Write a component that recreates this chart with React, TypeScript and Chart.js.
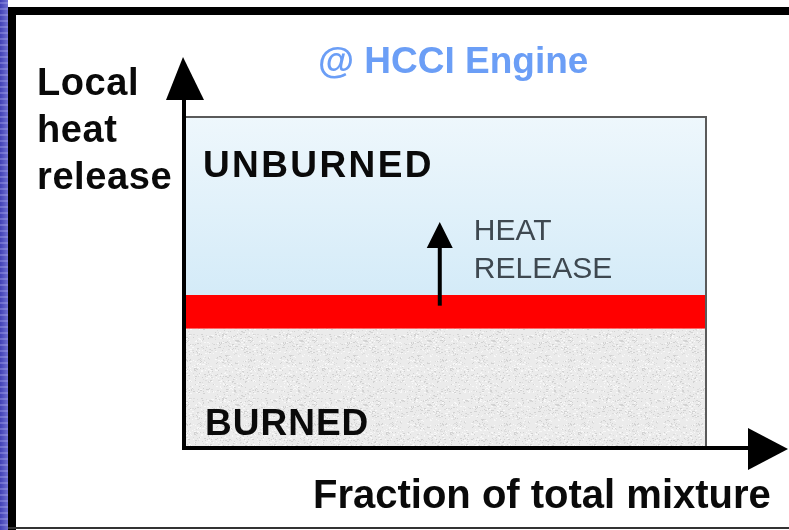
import React, { useEffect, useRef } from "react";
import { Chart, registerables } from "chart.js";

Chart.register(...registerables);

// ---- data (diagram values on normalised axes) ----
const fractionX = [0, 1]; // fraction of total mixture
const regionNames = ["BURNED", "REACTION ZONE", "UNBURNED"];
const regionLower = [0, 0.36, 0.462]; // local heat release (normalised)
const regionUpper = [0.36, 0.462, 1];
const heatArrowX = 0.49;
const heatArrowFrom = 0.43;
const heatArrowTo = 0.683;
const titleText = "@ HCCI Engine";
const yAxisTitle = ["Local", "heat", "release"];
const xAxisTitle = "Fraction of total mixture";
const heatLabel = ["HEAT", "RELEASE"];

const FONT = "'Liberation Sans', Arial, Helvetica, sans-serif";

function makeSpecklePattern(): CanvasPattern | string {
  const c = document.createElement("canvas");
  c.width = 64;
  c.height = 64;
  const g = c.getContext("2d");
  if (!g) return "#e9e9e9";
  g.fillStyle = "#ebebeb";
  g.fillRect(0, 0, 64, 64);
  let s = 12345;
  const next = () => {
    s = (s * 1103515245 + 12345) & 0x7fffffff;
    return s / 0x7fffffff;
  };
  for (let i = 0; i < 700; i++) {
    const x = Math.floor(next() * 64);
    const y = Math.floor(next() * 64);
    const v = next();
    g.fillStyle = v < 0.35 ? "#d2d2d2" : v < 0.6 ? "#dcdcdc" : "#f8f8f8";
    g.fillRect(x, y, 1 + (next() < 0.3 ? 1 : 0), 1);
  }
  return g.createPattern(c, "repeat") || "#e9e9e9";
}

function setSpacing(ctx: any, v: string) {
  if ("letterSpacing" in ctx) ctx.letterSpacing = v;
}

const diagramPlugin = {
  id: "diagram",
  beforeDraw(chart: any) {
    const ctx = chart.ctx;
    const W = chart.width;
    const H = chart.height;
    ctx.save();
    ctx.fillStyle = "#ffffff";
    ctx.fillRect(0, 0, W, H);
    // left blue strip
    const grd = ctx.createLinearGradient(0, 0, 8, 0);
    grd.addColorStop(0, "#4040b6");
    grd.addColorStop(1, "#7070d2");
    ctx.fillStyle = grd;
    ctx.fillRect(0, 0, 8, H);
    ctx.fillStyle = "rgba(180,180,240,0.35)";
    for (let y = 2; y < H; y += 6) ctx.fillRect(0, y, 8, 2);
    // black frame
    ctx.fillStyle = "#000000";
    ctx.fillRect(8, 7, W - 8, 8);
    ctx.fillRect(8, 7, 8, H - 7);
    ctx.fillStyle = "#333333";
    ctx.fillRect(8, H - 3, W - 8, 2);
    ctx.restore();
  },
  afterDatasetsDraw(chart: any) {
    const ctx = chart.ctx;
    const xs = chart.scales.x;
    const ys = chart.scales.y;
    const L = xs.getPixelForValue(fractionX[0]);
    const R = xs.getPixelForValue(fractionX[1]);
    const T = ys.getPixelForValue(regionUpper[2]);
    const B = ys.getPixelForValue(0);
    ctx.save();
    // box top and right edges
    ctx.strokeStyle = "#5a5a5a";
    ctx.lineWidth = 2;
    ctx.beginPath();
    ctx.moveTo(L, T);
    ctx.lineTo(R, T);
    ctx.lineTo(R, B);
    ctx.stroke();

    // axes
    ctx.strokeStyle = "#000000";
    ctx.fillStyle = "#000000";
    ctx.lineWidth = 4;
    ctx.lineCap = "square";
    ctx.beginPath();
    ctx.moveTo(L, B);
    ctx.lineTo(L, T - 20);
    ctx.moveTo(L, B);
    ctx.lineTo(R + 44, B);
    ctx.stroke();
    // y arrow head
    ctx.beginPath();
    ctx.moveTo(L - 1, T - 60);
    ctx.lineTo(L - 18, T - 17);
    ctx.lineTo(L + 20, T - 17);
    ctx.closePath();
    ctx.fill();
    // x arrow head
    ctx.beginPath();
    ctx.moveTo(R + 82, B + 1);
    ctx.lineTo(R + 42, B - 20);
    ctx.lineTo(R + 42, B + 22);
    ctx.closePath();
    ctx.fill();

    // heat release arrow
    const ax = xs.getPixelForValue(heatArrowX);
    const a0 = ys.getPixelForValue(heatArrowFrom);
    const a1 = ys.getPixelForValue(heatArrowTo);
    ctx.lineWidth = 4;
    ctx.lineCap = "butt";
    ctx.beginPath();
    ctx.moveTo(ax, a0);
    ctx.lineTo(ax, a1 + 20);
    ctx.stroke();
    ctx.beginPath();
    ctx.moveTo(ax, a1);
    ctx.lineTo(ax - 13, a1 + 26);
    ctx.lineTo(ax + 13, a1 + 26);
    ctx.closePath();
    ctx.fill();

    // texts
    ctx.textAlign = "left";
    ctx.textBaseline = "alphabetic";
    ctx.fillStyle = "#0a0a0a";
    ctx.font = `bold 38px ${FONT}`;
    setSpacing(ctx, "0.6px");
    ctx.fillText(yAxisTitle[0], 37, 95);
    ctx.fillText(yAxisTitle[1], 37, 142);
    ctx.fillText(yAxisTitle[2], 37, 189);

    ctx.fillStyle = "#6b9ef6";
    ctx.font = `bold 37px ${FONT}`;
    setSpacing(ctx, "0px");
    ctx.fillText(titleText, 318, 73);

    ctx.fillStyle = "#0a0a0a";
    ctx.font = `bold 37px ${FONT}`;
    setSpacing(ctx, "2.4px");
    ctx.fillText(regionNames[2], L + 19, 177);
    setSpacing(ctx, "1px");
    ctx.fillText(regionNames[0], L + 21, 435);

    setSpacing(ctx, "0px");
    ctx.font = `bold 40px ${FONT}`;
    ctx.fillText(xAxisTitle, 313, 508);

    ctx.fillStyle = "#3e4850";
    ctx.font = `30px ${FONT}`;
    ctx.fillText(heatLabel[0], ax + 34, 240);
    ctx.fillText(heatLabel[1], ax + 34, 278);
    ctx.restore();
  },
};

export default function App() {
  const ref = useRef<HTMLCanvasElement | null>(null);
  useEffect(() => {
    const canvas = ref.current;
    if (!canvas) return;
    const speckle = makeSpecklePattern();
    const colors: any[] = [
      speckle,
      "#ff0000",
      (c: any) => {
        const area = c.chart.chartArea;
        if (!area) return "#dceff9";
        const g = c.chart.ctx.createLinearGradient(0, area.top, 0, area.top + (area.bottom - area.top) * 0.54);
        g.addColorStop(0, "#eef7fc");
        g.addColorStop(1, "#d4ebf8");
        return g;
      },
    ];
    const chart = new Chart(canvas, {
      type: "line",
      data: {
        datasets: regionNames.map((name, i) => ({
          label: name,
          data: fractionX.map((x) => ({ x, y: regionUpper[i] })),
          fill: { value: regionLower[i] },
          backgroundColor: colors[i],
          borderWidth: 0,
          pointRadius: 0,
          tension: 0,
        })),
      },
      options: {
        responsive: false,
        animation: false,
        devicePixelRatio: 1,
        layout: { padding: { left: 184, right: 83, top: 117, bottom: 82 } },
        scales: {
          x: { type: "linear", min: 0, max: 1, display: false },
          y: { type: "linear", min: 0, max: 1, display: false },
        },
        plugins: {
          legend: { display: false },
          tooltip: { enabled: false },
          title: { display: false },
        },
      },
      plugins: [diagramPlugin],
    } as any);
    return () => chart.destroy();
  }, []);
  return (
    <div style={{ position: "fixed", left: 0, top: 0, width: 789, height: 530 }}>
      <canvas ref={ref} width={789} height={530} style={{ display: "block" }} />
    </div>
  );
}
